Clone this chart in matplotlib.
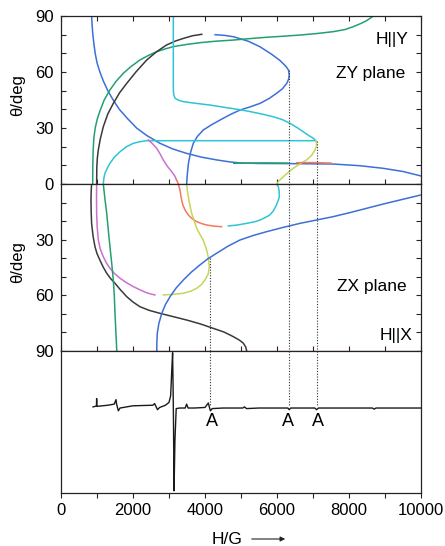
import matplotlib
matplotlib.use("Agg")
import matplotlib.pyplot as plt
from matplotlib.patches import FancyArrowPatch

plt.rcParams['font.family'] = ['Liberation Sans', 'DejaVu Sans']

# ---------------- data (H in gauss, theta in degrees) ----------------
# ZY plane
zy_blueA_H = [850, 865, 885, 915, 950, 1000, 1080, 1180, 1300, 1450, 1620, 1850, 2100, 2380, 2750,
              3100, 3490, 3900, 4325, 4700, 4970, 5500, 6500, 7560, 8300, 8950, 9500, 10000]
zy_blueA_T = [90, 85, 80, 75, 70, 65, 60, 55, 50, 45, 40, 35, 30, 26, 21.8,
              18.8, 16.4, 14.4, 12.9, 11.8, 11.3, 11.0, 10.9, 10.7, 9.8, 8.4, 6.7, 4.3]
zy_blueB_H = [4280, 4550, 4790, 5200, 5530, 5850, 6080, 6250, 6320, 6340, 6320, 6270, 6150, 5990,
              5780, 5530, 5250, 4970, 4700, 4420, 4170, 3950, 3790, 3675, 3600, 3540, 3510, 3490]
zy_blueB_T = [80, 79.6, 78.9, 76.5, 73.5, 69.5, 66.2, 63, 61, 58.4, 56, 53.9, 51, 48.6,
              45.8, 43.2, 41.3, 39.6, 37.2, 34.3, 31.6, 28.9, 25.5, 21.8, 17, 11.1, 5.5, 0]
zy_green_H = [880, 883, 893, 915, 950, 1010, 1080, 1200, 1360, 1530, 1730, 1950, 2190, 2420, 2660,
              2900, 3120, 3500, 3860, 4300, 4780, 5250, 5710, 6200, 6640, 7100, 7560, 7900, 8120,
              8330, 8490, 8680]
zy_green_T = [0, 9, 18, 25, 30, 35, 39, 45, 50.4, 55, 59.3, 63, 66.4, 68.8, 70.9,
              72.4, 73.6, 74.8, 75.7, 76.5, 77.1, 77.9, 78.6, 79.2, 79.8, 80.6, 81.6, 82.8, 84.3,
              86, 87.5, 90]
zy_black_H = [990, 995, 1010, 1036, 1090, 1175, 1300, 1453, 1625, 1825, 2080, 2380, 2650, 2935,
              3180, 3400, 3650, 3910]
zy_black_T = [0, 9, 14, 18.2, 24, 30.7, 37.5, 43.2, 48.8, 53.9, 60, 66.4, 70.8, 74.5,
              76.6, 78, 79.4, 80.2]
zy_cyan_H = [3120, 3120, 3125, 3140, 3170, 3260, 3400, 3750, 4140, 4560, 4970, 5250, 5600, 5900,
             6150, 6360, 6560, 6730, 6880, 7010, 7080,
             2380, 2200, 2010, 1820, 1640, 1480, 1360, 1280, 1220, 1190, 1175]
zy_cyan_T = [90, 52, 49, 47.3, 45.9, 44.9, 44.1, 43.2, 42.3, 41, 39.8, 38.8, 37.4, 36,
             34.5, 32.5, 30.2, 28, 26, 24.5, 23.2,
             23.2, 22.7, 21.8, 20, 17.3, 14.3, 11.1, 8.3, 5.7, 3, 0]
zy_pink_H = [2425, 2530, 2660, 2750, 2840, 2950, 3075, 3160, 3210]
zy_pink_T = [23.6, 21.8, 19.1, 16.2, 12.9, 9.6, 6.6, 4.3, 2.1]
zy_orange_H = [3210, 3240, 3260]
zy_orange_T = [2.1, 0.9, 0]
zy_yellow_H = [5990, 6050, 6175, 6310, 6450, 6640, 6825, 6960, 7055, 7095, 7100, 7080]
zy_yellow_T = [0, 1.6, 3.9, 6.2, 8.4, 10.8, 12.9, 15.3, 18.2, 20.2, 21.8, 23.2]
zy_gseg_H = [4800, 5700, 6300]
zy_gseg_T = [11.1, 11.3, 11.2]
zy_rseg_H = [6550, 7000, 7500]
zy_rseg_T = [11.4, 11.5, 11.2]

# ZX plane
zx_black_H = [850, 838, 833, 838, 850, 890, 944, 1000, 1080, 1170, 1270, 1380, 1500, 1650, 1825,
              2000, 2190, 2450, 2750, 3100, 3490, 3870, 4230, 4530, 4790, 4960, 5065, 5130, 5160]
zx_black_T = [0, 4, 8.6, 15, 21.2, 28, 33.8, 37.5, 41, 44.7, 48.1, 51, 53.5, 57, 60.7,
              63.6, 66.1, 68.1, 69.7, 71.4, 73.3, 75.4, 77.8, 79.8, 82.3, 84.2, 85.8, 87.8, 90]
zx_pink_H = [990, 987, 990, 1005, 1036, 1090, 1175, 1260, 1360, 1490, 1640, 1820, 2010, 2200,
             2380, 2500, 2610]
zx_pink_T = [0, 8, 15.8, 23, 30.2, 35, 39.2, 42.5, 45.4, 48.3, 50.8, 53.2, 55.3, 57.1,
             58.6, 59.3, 59.8]
zx_green_H = [1175, 1220, 1270, 1315, 1360, 1410, 1453, 1480, 1500, 1525, 1550]
zx_green_T = [0, 8, 15.8, 25, 33.8, 43, 51.7, 60, 69.7, 80, 90]
zx_orange_H = [3260, 3280, 3305, 3325, 3350, 3390, 3445, 3510, 3580, 3670, 3770, 3900, 4045,
               4250, 4460]
zx_orange_T = [0, 1.5, 3.2, 5.8, 8.6, 11.5, 14, 16, 17.6, 19.1, 20.3, 21.3, 22.1,
               22.7, 23]
zx_cyan_H = [4650, 4900, 5160, 5370, 5530, 5700, 5800, 5900, 5980, 6040, 6065, 6060, 6035, 5990]
zx_cyan_T = [22.6, 22.1, 21.2, 20.4, 19.4, 17.8, 16.7, 14.5, 11.5, 8.5, 6.8, 3.8, 1.4, 0]
zx_yellow_H = [3490, 3510, 3537, 3580, 3630, 3700, 3770, 3860, 3950, 4030, 4090, 4120, 4090,
               4000, 3900, 3770, 3600, 3400, 3100, 2840]
zx_yellow_T = [0, 3.5, 6.8, 11.5, 15.8, 20, 23.9, 27.2, 30.2, 34.5, 39.2, 44.5, 48.5,
               51.7, 54.2, 56.2, 57.8, 58.9, 59.5, 59.8]
zx_blue_H = [2660, 2663, 2675, 2720, 2800, 2900, 3030, 3200, 3400, 3620, 3860, 4080, 4325, 4640,
             4970, 5330, 5710, 6170, 6640, 7100, 7560, 8030, 8490, 8950, 9420, 10000]
zx_blue_T = [90, 85, 80.4, 75, 69.7, 65, 60.7, 56, 51.7, 47.5, 43.6, 40.3, 37.3, 33.5,
             30.2, 27.8, 25.7, 23.4, 21.2, 19.4, 17.6, 15.4, 13.1, 10.8, 8.6, 5.9]

# EPR spectrum (derivative signal, arbitrary units)
spec_H = [890, 950, 985, 990, 995, 1010, 1300, 1480, 1528, 1545, 1593, 1640, 2000, 2550, 2600,
          2680, 2740, 2900, 3000, 3046, 3080, 3100, 3115, 3125, 3140, 3165, 3200, 3300, 3450,
          3490, 3530, 3700, 4000, 4093, 4120, 4150, 4200, 4500, 5050, 5100, 5150, 5500, 6300,
          6340, 6380, 7050, 7100, 7150, 8650, 8700, 8750, 10000]
spec_I = [0.0, 0.01, 0.02, 0.15, 0.02, 0.01, 0.03, 0.05, 0.13, 0.05, -0.07, -0.02, 0.02, 0.03, 0.06,
          -0.05, -0.01, 0.03, 0.08, 0.2, 0.7, 0.97, 0.3, -0.3, -1.5, -0.6, -0.03, -0.02, -0.02,
          0.05, -0.02, -0.02, -0.01, 0.07, 0.0, -0.07, -0.03, -0.02, -0.02, 0.0, -0.03, -0.02, -0.02,
          -0.05, -0.02, -0.02, -0.05, -0.02, -0.02, -0.04, -0.02, -0.02]

# dotted guide lines: (H, panel, theta where it starts)
guide_H = [4140, 6340, 7100]
guide_panel = ['ZX', 'ZY', 'ZY']
guide_T = [40, 61, 23.2]

a_labels_H = [4195, 6300, 7125]

xticks = list(range(0, 10001, 1000))
xticklabels = [str(v) if v % 2000 == 0 else '' for v in xticks]
yticks = list(range(0, 91, 10))

# ---------------- styles ----------------
blue = '#3d6fd6'
green = '#23a070'
black = '#3a3a3a'
cyan = '#2ec4d4'
pink = '#cc70d0'
orange = '#f5795a'
yellow = '#c8d45a'
spine_c = '#2a2222'
lw = 1.1

fig = plt.figure(figsize=(4.45, 5.46), dpi=100)
L, W = 61 / 445, 360 / 445
ax1 = fig.add_axes([L, 1 - 184 / 546, W, 168 / 546])
ax2 = fig.add_axes([L, 1 - 351 / 546, W, 167 / 546])
ax3 = fig.add_axes([L, 1 - 493 / 546, W, 142 / 546])

for ax in (ax1, ax2, ax3):
    ax.set_xlim(0, 10000)
    for s in ax.spines.values():
        s.set_color(spine_c)
        s.set_linewidth(0.9)

# ZY panel
ax1.set_ylim(0, 90)
ax1.plot(zy_blueA_H, zy_blueA_T, color=blue, lw=lw)
ax1.plot(zy_blueB_H, zy_blueB_T, color=blue, lw=lw)
ax1.plot(zy_green_H, zy_green_T, color=green, lw=lw)
ax1.plot(zy_black_H, zy_black_T, color=black, lw=lw)
ax1.plot(zy_cyan_H, zy_cyan_T, color=cyan, lw=lw)
ax1.plot(zy_pink_H, zy_pink_T, color=pink, lw=lw)
ax1.plot(zy_orange_H, zy_orange_T, color=orange, lw=lw)
ax1.plot(zy_yellow_H, zy_yellow_T, color=yellow, lw=lw)
ax1.plot(zy_gseg_H, zy_gseg_T, color=green, lw=lw)
ax1.plot(zy_rseg_H, zy_rseg_T, color=orange, lw=lw)

# ZX panel
ax2.set_ylim(90, 0)
ax2.plot(zx_black_H, zx_black_T, color=black, lw=lw)
ax2.plot(zx_pink_H, zx_pink_T, color=pink, lw=lw)
ax2.plot(zx_green_H, zx_green_T, color=green, lw=lw)
ax2.plot(zx_orange_H, zx_orange_T, color=orange, lw=lw)
ax2.plot(zx_cyan_H, zx_cyan_T, color=cyan, lw=lw)
ax2.plot(zx_yellow_H, zx_yellow_T, color=yellow, lw=lw)
ax2.plot(zx_blue_H, zx_blue_T, color=blue, lw=lw)

# spectrum
ax3.set_ylim(-1.54, 1.0)
ax3.plot(spec_H, spec_I, color='#1a1a1a', lw=1.0)

# guide lines
for h, p, t in zip(guide_H, guide_panel, guide_T):
    dkw = dict(color='#333333', lw=0.8, ls=(0, (1, 1.5)))
    if p == 'ZY':
        ax1.plot([h, h], [t, 0], **dkw)
        ax2.plot([h, h], [0, 90], **dkw)
    else:
        ax2.plot([h, h], [t, 90], **dkw)
    ax3.plot([h, h], [1.0, 0.02], **dkw)

for h in a_labels_H:
    ax3.text(h, -0.27, 'A', ha='center', va='center', fontsize=13)

# ticks
tick_kw = dict(direction='in', length=3.5, width=0.8, color=spine_c, labelsize=12)
ax1.set_xticks(xticks)
ax1.set_yticks(yticks)
ax1.set_yticklabels([str(v) if v % 30 == 0 else '' for v in yticks])
ax1.tick_params(axis='both', top=True, bottom=True, left=True, right=True,
                labelbottom=False, **tick_kw)
ax2.set_xticks(xticks)
ax2.set_yticks(yticks)
ax2.set_yticklabels([str(v) if (v % 30 == 0 and v != 0) else '' for v in yticks])
ax2.tick_params(axis='both', top=False, bottom=True, left=True, right=True,
                labelbottom=False, **tick_kw)
ax1.tick_params(axis='y', pad=5)
ax2.tick_params(axis='y', pad=5)

ax3.set_yticks([])
ax3.set_xticks(xticks)
ax3.set_xticklabels(xticklabels)
ax3.tick_params(axis='x', direction='out', length=3.5, width=0.8, color=spine_c,
                labelsize=12, pad=3.5)

# panel annotations
ax1.text(9650, 77.5, 'H||Y', ha='right', va='center', fontsize=12.5)
ax1.text(9560, 59, 'ZY plane', ha='right', va='center', fontsize=12.5)
ax2.text(9610, 55.3, 'ZX plane', ha='right', va='center', fontsize=12.5)
ax2.text(9750, 81.4, 'H||X', ha='right', va='center', fontsize=12.5)

fig.text(18 / 445, 1 - 95 / 546, 'θ/deg', rotation=90, ha='center', va='center', fontsize=12)
fig.text(18 / 445, 1 - 262 / 546, 'θ/deg', rotation=90, ha='center', va='center', fontsize=12)

fig.text(212 / 445, 1 - 539 / 546, 'H/G', ha='left', va='center', fontsize=12.5)
fig.add_artist(FancyArrowPatch((249 / 445, 1 - 539 / 546), (288 / 445, 1 - 539 / 546),
                               transform=fig.transFigure, arrowstyle='-|>',
                               mutation_scale=7, lw=0.8, color='#222222'))

fig.savefig('out.png', dpi=100)
